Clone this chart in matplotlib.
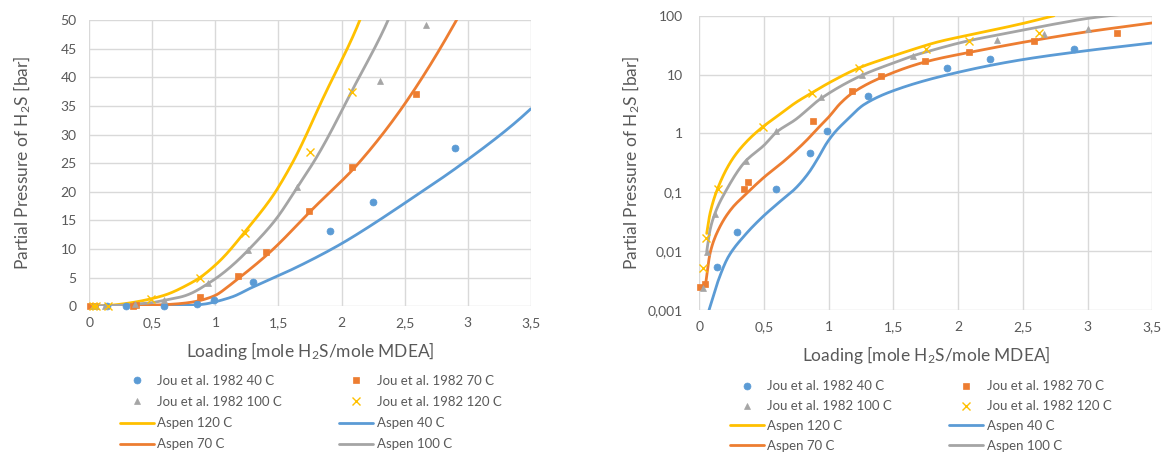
import numpy as np
import matplotlib
matplotlib.use("Agg")
import matplotlib.pyplot as plt
from matplotlib.ticker import FixedLocator, FixedFormatter, NullLocator

plt.rcParams['font.family'] = ['Lato', 'DejaVu Sans']
plt.rcParams['mathtext.default'] = 'regular'

# ---------------- data ----------------
# Jou et al. 1982 experimental points (loading, partial pressure bar)
jou40_x = [0.139, 0.289, 0.593, 0.855, 0.985, 1.30, 1.91, 2.246, 2.898]
jou40_y = [0.0054, 0.021, 0.113, 0.457, 1.08, 4.3, 13.1, 18.2, 27.6]

jou70_x = [0.008, 0.044, 0.345, 0.374, 0.88, 1.177, 1.40, 1.743, 2.084, 2.587, 3.226]
jou70_y = [0.0025, 0.0028, 0.113, 0.15, 1.6, 5.2, 9.4, 16.7, 24.4, 37.0, 51.0]

jou100_x = [0.026, 0.057, 0.124, 0.361, 0.595, 0.938, 1.257, 1.649, 2.303, 2.666, 3.006]
jou100_y = [0.0024, 0.0097, 0.042, 0.343, 1.09, 4.1, 9.9, 20.8, 39.4, 49.2, 60.6]

jou120_x = [0.031, 0.055, 0.145, 0.49, 0.874, 1.233, 1.748, 2.084, 2.628]
jou120_y = [0.0051, 0.017, 0.113, 1.3, 4.95, 12.8, 27.0, 37.4, 51.8]

# Aspen model curves
asp40_x = [0.075, 0.147, 0.224, 0.353, 0.482, 0.611, 0.74, 0.842, 0.92, 0.985, 1.049,
           1.139, 1.273, 1.537, 2.066, 2.5, 2.937, 3.5]
asp40_y = [0.001, 0.0032, 0.008, 0.0188, 0.037, 0.066, 0.115, 0.21, 0.39, 0.69, 1.06,
           1.68, 3.1, 5.7, 11.8, 18.0, 24.6, 34.5]

asp70_x = [0.049, 0.083, 0.147, 0.25, 0.353, 0.5, 0.662, 0.817, 0.92, 1.0, 1.087,
           1.181, 1.405, 1.749, 2.119, 2.567, 2.911, 3.0, 3.5]
asp70_y = [0.0028, 0.0092, 0.023, 0.053, 0.09, 0.18, 0.35, 0.72, 1.25, 1.9, 3.2,
           4.84, 8.9, 16.5, 24.6, 37.5, 50.0, 53.5, 75.5]

asp100_x = [0.057, 0.083, 0.121, 0.199, 0.353, 0.5, 0.598, 0.74, 0.943, 1.26,
            1.5, 1.643, 1.762, 2.079, 2.369, 2.5, 2.787, 3.0, 3.2, 3.5]
asp100_y = [0.0098, 0.023, 0.044, 0.10, 0.33, 0.63, 1.06, 1.7, 3.97, 9.8,
            15.8, 20.6, 24.6, 37.5, 50.0, 57.0, 75.0, 90.0, 102.0, 118.0]

asp120_x = [0.057, 0.083, 0.147, 0.25, 0.353, 0.482, 0.6, 0.75, 0.877, 1.0, 1.234,
            1.485, 1.604, 1.852, 2.145, 2.5, 2.74]
asp120_y = [0.02, 0.044, 0.124, 0.35, 0.68, 1.25, 1.95, 3.4, 5.0, 7.2, 13.0,
            20.3, 24.8, 36.3, 50.0, 74.0, 100.0]

x_ticks = [0, 0.5, 1, 1.5, 2, 2.5, 3, 3.5]
x_ticklabels = ['0', '0,5', '1', '1,5', '2', '2,5', '3', '3,5']
lin_yticks = [0, 5, 10, 15, 20, 25, 30, 35, 40, 45, 50]
log_yticks = [0.001, 0.01, 0.1, 1, 10, 100]
log_yticklabels = ['0,001', '0,01', '0,1', '1', '10', '100']

# ---------------- style ----------------
C40, C70, C100, C120 = '#5B9BD5', '#ED7D31', '#A5A5A5', '#FFC000'
TXT = '#595959'
GRID = '#D9D9D9'


def smooth_path(xs, ys, n=400):
    """Smoothed-line rendering (like Excel's 'smoothed line'): monotone
    cubic Hermite through the given points, done in log space."""
    x = np.asarray(xs, float)
    y = np.log10(np.asarray(ys, float))
    h = np.diff(x)
    d = np.diff(y) / h
    m = np.zeros_like(x)
    m[0], m[-1] = d[0], d[-1]
    for k in range(1, len(x) - 1):
        if d[k - 1] * d[k] <= 0:
            m[k] = 0.0
        else:
            w1 = 2 * h[k] + h[k - 1]
            w2 = h[k] + 2 * h[k - 1]
            m[k] = (w1 + w2) / (w1 / d[k - 1] + w2 / d[k])
    xn = np.linspace(x[0], x[-1], n)
    idx = np.clip(np.searchsorted(x, xn) - 1, 0, len(x) - 2)
    t = (xn - x[idx]) / h[idx]
    h00 = 2 * t**3 - 3 * t**2 + 1
    h10 = t**3 - 2 * t**2 + t
    h01 = -2 * t**3 + 3 * t**2
    h11 = t**3 - t**2
    yn = (h00 * y[idx] + h10 * h[idx] * m[idx] + h01 * y[idx + 1]
          + h11 * h[idx] * m[idx + 1])
    return xn, 10 ** yn


fig = plt.figure(figsize=(11.64, 4.57), dpi=100)
axL = fig.add_axes([0.0767, 0.330, 0.456 - 0.0767, 0.956 - 0.330])
axR = fig.add_axes([0.6008, 0.3217, 0.990 - 0.6008, 0.9656 - 0.3217])


def draw(ax, ylo, yhi):
    handles = {}
    for key, xs, ys, c, m, ms in [
        ('j40', jou40_x, jou40_y, C40, 'o', 5),
        ('j70', jou70_x, jou70_y, C70, 's', 5),
        ('j100', jou100_x, jou100_y, C100, '^', 5),
        ('j120', jou120_x, jou120_y, C120, 'x', 6),
    ]:
        xs = np.asarray(xs); ys = np.asarray(ys)
        keep = (ys <= yhi) & (ys >= ylo)
        h, = ax.plot(xs[keep], ys[keep], linestyle='none', marker=m, color=c,
                     markersize=ms, markeredgewidth=1.0 if m == 'x' else 0.5,
                     clip_on=False, zorder=4)
        handles[key] = h
    for key, xs, ys, c in [
        ('a120', asp120_x, asp120_y, C120),
        ('a40', asp40_x, asp40_y, C40),
        ('a70', asp70_x, asp70_y, C70),
        ('a100', asp100_x, asp100_y, C100),
    ]:
        sx, sy = smooth_path(xs, ys)
        h, = ax.plot(sx, sy, color=c, linewidth=2.0, solid_capstyle='round', zorder=3)
        handles[key] = h
    ax.set_xlim(0, 3.5)
    ax.xaxis.set_major_locator(FixedLocator(x_ticks))
    ax.xaxis.set_major_formatter(FixedFormatter(x_ticklabels))
    ax.grid(True, which='major', color=GRID, linewidth=1.0, zorder=0)
    ax.set_axisbelow(True)
    for s in ax.spines.values():
        s.set_visible(False)
    ax.tick_params(axis='both', length=0, colors=TXT, labelsize=10)
    ax.tick_params(axis='x', pad=8)
    ax.tick_params(axis='y', pad=9)
    ax.set_xlabel('Loading [mole H$_2$S/mole MDEA]', fontsize=12.5, color=TXT, labelpad=8)
    ax.set_ylabel('Partial Pressure of H$_2$S [bar]', fontsize=12.5, color=TXT)
    return handles


hL = draw(axL, 0, 50)
axL.set_ylim(0, 50)
axL.yaxis.set_major_locator(FixedLocator(lin_yticks))
axL.yaxis.set_label_coords(-0.128, 0.5)

hR = draw(axR, 0.001, 100)
axR.set_yscale('log')
axR.set_ylim(0.001, 100)
axR.yaxis.set_major_locator(FixedLocator(log_yticks))
axR.yaxis.set_major_formatter(FixedFormatter(log_yticklabels))
axR.yaxis.set_minor_locator(NullLocator())
axR.tick_params(axis='y', pad=12)
axR.yaxis.set_label_coords(-0.127, 0.5)

labels = {
    'j40': 'Jou et al. 1982 40 C', 'j70': 'Jou et al. 1982 70 C',
    'j100': 'Jou et al. 1982 100 C', 'j120': 'Jou et al. 1982 120 C',
    'a120': 'Aspen 120 C', 'a40': 'Aspen 40 C',
    'a70': 'Aspen 70 C', 'a100': 'Aspen 100 C',
}
order = ['j40', 'j100', 'a120', 'a70', 'j70', 'j120', 'a40', 'a100']

for ax, h, anchor, lsp in [(axL, hL, (0.103, 0.180), 0.7), (axR, hR, (0.627, 0.168), 0.6)]:
    leg = fig.legend([h[k] for k in order], [labels[k] for k in order],
                     ncol=2, loc='upper left', bbox_to_anchor=anchor,
                     frameon=False, fontsize=9.5, handlelength=2.6,
                     handletextpad=0.25, columnspacing=4.3, labelspacing=lsp,
                     borderpad=0, borderaxespad=0)
    for t in leg.get_texts():
        t.set_color(TXT)

fig.savefig('out.png', dpi=100, facecolor='white')
